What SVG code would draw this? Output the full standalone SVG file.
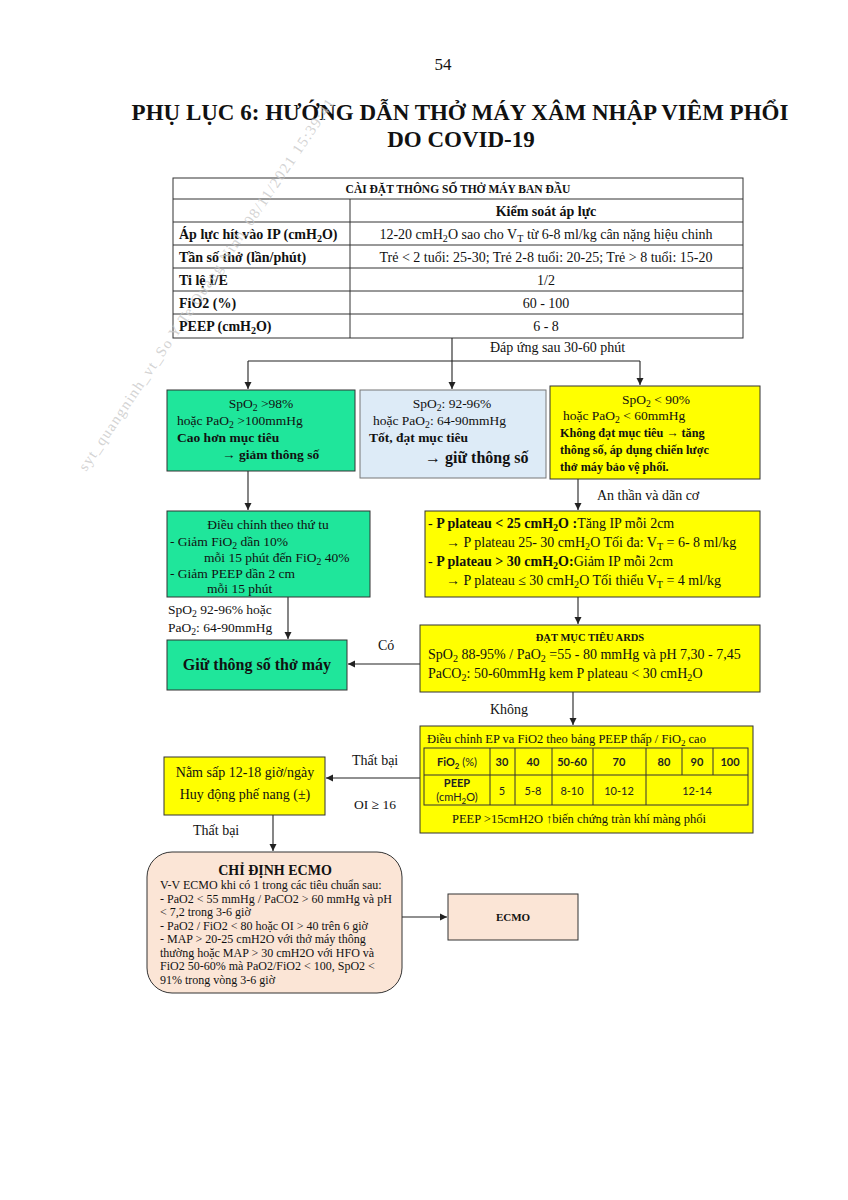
<svg xmlns="http://www.w3.org/2000/svg" width="848" height="1200" viewBox="0 0 848 1200">
<defs>
<style>
.t{font-family:"Liberation Serif","Times New Roman",serif;font-size:13.5px;fill:#111}
.m{font-size:14px}
.b{font-weight:bold}
.c{text-anchor:middle}
.sub{font-size:72%;baseline-shift:-3px}
.cal{font-family:Lato,"Liberation Sans",sans-serif;font-size:11px;fill:#222}
.box{stroke:#333;stroke-width:1}
.green{fill:#1FE69B}
.blue{fill:#DDEBF7;stroke:#777}
.yellow{fill:#FFFF00}
.peach{fill:#FBE5D6}
.ln{stroke:#222;stroke-width:1.1;fill:none}
.grid{stroke:#333;stroke-width:1;fill:none}
</style>
<marker id="ah" markerWidth="8" markerHeight="8" refX="7" refY="4" orient="auto" markerUnits="userSpaceOnUse">
<path d="M0,0.5 L7,4 L0,7.5 Z" fill="#222"/>
</marker>
</defs>
<rect width="848" height="1200" fill="#fff"/>

<g id="page-header">
<text x="443" y="70" class="t c" style="font-size:17px">54</text>
<text x="460" y="120" class="t b c" style="font-size:23px">PHỤ LỤC 6: HƯỚNG DẪN THỞ MÁY XÂM NHẬP VIÊM PHỔI</text>
<text x="461" y="147" class="t b c" style="font-size:23px">DO COVID-19</text>
</g>

<g id="settings-table">
<rect x="173" y="178" width="570" height="160" fill="#fff" class="grid"/>
<path class="grid" d="M173,199H743M173,222H743M173,245H743M173,268H743M173,291H743M173,314H743M350,199V338"/>
<text x="458" y="193" class="t b c" style="font-size:11.5px">CÀI ĐẶT THÔNG SỐ THỞ MÁY BAN ĐẦU</text>
<text x="546" y="216" class="t m b c">Kiểm soát áp lực</text>
<text x="179" y="239" class="t m b">Áp lực hít vào IP (cmH<tspan class="sub">2</tspan>O)</text>
<text x="546" y="239" class="t m c">12-20 cmH<tspan class="sub">2</tspan>O sao cho V<tspan class="sub">T</tspan> từ 6-8 ml/kg cân nặng hiệu chinh</text>
<text x="179" y="262" class="t m b">Tần số thở (lần/phút)</text>
<text x="546" y="262" class="t m c">Trẻ &lt; 2 tuổi: 25-30; Trẻ 2-8 tuổi: 20-25; Trẻ &gt; 8 tuổi: 15-20</text>
<text x="179" y="285" class="t m b">Ti lệ I/E</text>
<text x="546" y="285" class="t m c">1/2</text>
<text x="179" y="308" class="t m b">FiO2 (%)</text>
<text x="546" y="308" class="t m c">60 - 100</text>
<text x="179" y="331" class="t m b">PEEP (cmH<tspan class="sub">2</tspan>O)</text>
<text x="546" y="331" class="t m c">6 - 8</text>
</g>

<g id="connectors">
<path class="ln" d="M452,338V389" marker-end="url(#ah)"/>
<path class="ln" d="M248,361H640"/>
<path class="ln" d="M248,361V389" marker-end="url(#ah)"/>
<path class="ln" d="M640,361V385" marker-end="url(#ah)"/>
<path class="ln" d="M248,471V510" marker-end="url(#ah)"/>
<path class="ln" d="M578,479V510" marker-end="url(#ah)"/>
<path class="ln" d="M288,597V639" marker-end="url(#ah)"/>
<path class="ln" d="M578,597V624" marker-end="url(#ah)"/>
<path class="ln" d="M420,664H348" marker-end="url(#ah)"/>
<path class="ln" d="M573,692V725" marker-end="url(#ah)"/>
<path class="ln" d="M420,778H326" marker-end="url(#ah)"/>
<path class="ln" d="M273,815V851" marker-end="url(#ah)"/>
<path class="ln" d="M402,917H447" marker-end="url(#ah)"/>
<text x="490" y="352" class="t m">Đáp ứng sau 30-60 phút</text>
<text x="597" y="500" class="t m">An thần và dãn cơ</text>
<text x="168" y="614" class="t">SpO<tspan class="sub">2</tspan> 92-96% hoặc</text>
<text x="168" y="632" class="t">PaO<tspan class="sub">2</tspan>: 64-90mmHg</text>
<text x="378" y="650" class="t m">Có</text>
<text x="490" y="714" class="t m">Không</text>
<text x="352" y="765" class="t m">Thất bại</text>
<text x="354" y="809" class="t">OI ≥ 16</text>
<text x="193" y="835" class="t m">Thất bại</text>
</g>

<g id="node-high">
<rect x="167" y="390" width="188" height="81" class="box green"/>
<text x="261" y="408" class="t c">SpO<tspan class="sub">2</tspan> &gt;98%</text>
<text x="177" y="425" class="t">hoặc PaO<tspan class="sub">2</tspan> &gt;100mmHg</text>
<text x="177" y="442" class="t b">Cao hơn mục tiêu</text>
<text x="222" y="459" class="t b">→ giảm thông số</text>
</g>

<g id="node-target">
<rect x="360" y="390" width="186" height="88" class="box blue"/>
<text x="452" y="408" class="t c">SpO<tspan class="sub">2</tspan>: 92-96%</text>
<text x="373" y="425" class="t">hoặc PaO<tspan class="sub">2</tspan>: 64-90mmHg</text>
<text x="369" y="442" class="t b">Tốt, đạt mục tiêu</text>
<text x="425" y="463" class="t b" style="font-size:16px">→ giữ thông số</text>
</g>

<g id="node-low">
<rect x="550" y="386" width="210" height="93" class="box yellow"/>
<text x="656" y="404" class="t c">SpO<tspan class="sub">2</tspan> &lt; 90%</text>
<text x="563" y="420" class="t">hoặc PaO<tspan class="sub">2</tspan> &lt; 60mmHg</text>
<text x="560" y="437" class="t b" style="font-size:12.2px">Không đạt mục tiêu → tăng</text>
<text x="560" y="454" class="t b" style="font-size:12.2px">thông số, áp dụng chiến lược</text>
<text x="560" y="471" class="t b" style="font-size:12.2px">thở máy bảo vệ phổi.</text>
</g>

<g id="node-adjust">
<rect x="167" y="511" width="203" height="86" class="box green"/>
<text x="268" y="529" class="t c">Điều chỉnh theo thứ tu</text>
<text x="170" y="546" class="t">- Giảm FiO<tspan class="sub">2</tspan> dần 10%</text>
<text x="204" y="562" class="t">mỗi 15 phút đến FiO<tspan class="sub">2</tspan> 40%</text>
<text x="170" y="578" class="t">- Giảm PEEP dần 2 cm</text>
<text x="207" y="593" class="t">mỗi 15 phút</text>
</g>

<g id="node-plateau">
<rect x="425" y="511" width="335" height="86" class="box yellow"/>
<text x="428" y="528" class="t m">- <tspan class="b">P plateau &lt; 25 cmH<tspan class="sub">2</tspan>O :</tspan>Tăng IP mỗi 2cm</text>
<text x="446" y="547" class="t m">→ P plateau 25- 30 cmH<tspan class="sub">2</tspan>O Tối đa: V<tspan class="sub">T</tspan> = 6- 8 ml/kg</text>
<text x="428" y="566" class="t m">- <tspan class="b">P plateau &gt; 30 cmH<tspan class="sub">2</tspan>O:</tspan>Giảm IP mỗi 2cm</text>
<text x="446" y="585" class="t m">→ P plateau ≤ 30 cmH<tspan class="sub">2</tspan>O Tối thiểu V<tspan class="sub">T</tspan> = 4 ml/kg</text>
</g>

<g id="node-keep">
<rect x="167" y="640" width="180" height="50" class="box green"/>
<text x="257" y="670" class="t b c" style="font-size:16px">Giữ thông số thở máy</text>
</g>

<g id="node-ards">
<rect x="420" y="625" width="340" height="67" class="box yellow"/>
<text x="590" y="641" class="t b c" style="font-size:10.5px">ĐẠT MỤC TIÊU ARDS</text>
<text x="428" y="659" class="t m">SpO<tspan class="sub">2</tspan> 88-95% / PaO<tspan class="sub">2</tspan> =55 - 80 mmHg và pH 7,30 - 7,45</text>
<text x="428" y="678" class="t m">PaCO<tspan class="sub">2</tspan>: 50-60mmHg kem P plateau &lt; 30 cmH<tspan class="sub">2</tspan>O</text>
</g>

<g id="node-peep-table">
<rect x="420" y="726" width="333" height="107" class="box yellow"/>
<text x="427" y="743" class="t" style="font-size:12.5px">Điều chỉnh EP va FiO2 theo bảng PEEP thấp / FiO<tspan class="sub">2</tspan> cao</text>
<rect x="424" y="748" width="324" height="57" class="grid"/>
<path class="grid" d="M424,775H748M490,748V805M515,748V805M552,748V805M593,748V805M646,748V805M682,748V775M713,748V775"/>
<text x="457" y="766" class="cal c"><tspan font-weight="bold">FiO<tspan class="sub">2</tspan></tspan> (%)</text>
<text x="502" y="766" class="cal c" font-weight="bold">30</text>
<text x="533" y="766" class="cal c" font-weight="bold">40</text>
<text x="572" y="766" class="cal c" font-weight="bold">50-60</text>
<text x="619" y="766" class="cal c" font-weight="bold">70</text>
<text x="664" y="766" class="cal c" font-weight="bold">80</text>
<text x="697" y="766" class="cal c" font-weight="bold">90</text>
<text x="730" y="766" class="cal c" font-weight="bold">100</text>
<text x="457" y="787" class="cal c" font-weight="bold">PEEP</text>
<text x="457" y="801" class="cal c">(cmH<tspan class="sub">2</tspan>O)</text>
<text x="502" y="795" class="cal c">5</text>
<text x="533" y="795" class="cal c">5-8</text>
<text x="572" y="795" class="cal c">8-10</text>
<text x="619" y="795" class="cal c">10-12</text>
<text x="697" y="795" class="cal c">12-14</text>
<text x="579" y="823" class="t c" style="font-size:12.5px">PEEP &gt;15cmH2O ↑biến chứng tràn khí màng phổi</text>
</g>

<g id="node-prone">
<rect x="164" y="757" width="161" height="58" class="box yellow"/>
<text x="245" y="777" class="t m c">Nằm sấp 12-18 giờ/ngày</text>
<text x="245" y="799" class="t m c">Huy động phế nang (±)</text>
</g>

<g id="node-ecmo-criteria">
<rect x="147" y="852" width="255" height="141" rx="25" ry="25" class="box peach"/>
<text x="275" y="875" class="t b c" style="font-size:14px">CHỈ ĐỊNH ECMO</text>
<g class="t" style="font-size:12px">
<text x="160" y="889">V-V ECMO khi có 1 trong các tiêu chuẩn sau:</text>
<text x="160" y="902.5">- PaO2 &lt; 55 mmHg / PaCO2 &gt; 60 mmHg và pH</text>
<text x="160" y="916">&lt; 7,2 trong 3-6 giờ</text>
<text x="160" y="929.5">- PaO2 / FiO2 &lt; 80 hoặc OI &gt; 40 trên 6 giờ</text>
<text x="160" y="943">- MAP &gt; 20-25 cmH2O với thở máy thông</text>
<text x="160" y="956.5">thường hoặc MAP &gt; 30 cmH2O với HFO và</text>
<text x="160" y="970">FiO2 50-60% mà PaO2/FiO2 &lt; 100, SpO2 &lt;</text>
<text x="160" y="983.5">91% trong vòng 3-6 giờ</text>
</g>
</g>

<g id="node-ecmo">
<rect x="448" y="894" width="130" height="46" class="box peach"/>
<text x="513" y="921" class="t b c" style="font-size:11px">ECMO</text>
</g>

<text x="86" y="472" transform="rotate(-56 86 472)" textLength="445" lengthAdjust="spacing" style="font-family:'Liberation Serif',serif;font-size:15px;fill:#c8c8c8;fill-opacity:0.8">syt_quangninh_vt_So Y Te Quang Ninh_08/11/2021 15:39:41</text>
</svg>
